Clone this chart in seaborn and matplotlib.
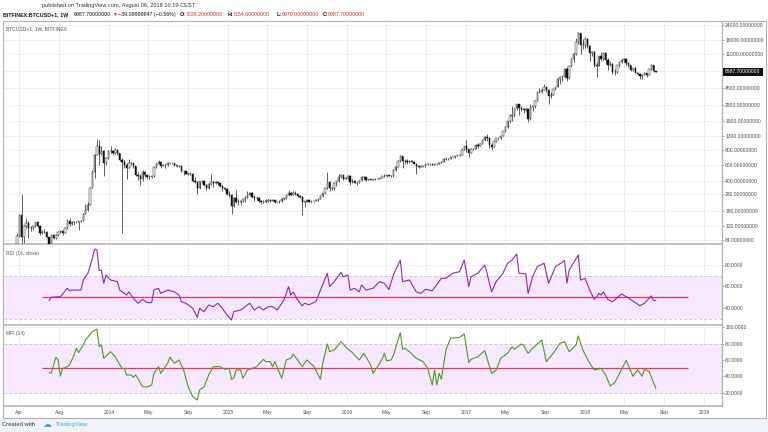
import numpy as np
import pandas as pd
import matplotlib
matplotlib.use("Agg")
import matplotlib.pyplot as plt
import matplotlib.dates as mdates
from matplotlib.patches import Rectangle
import seaborn as sns

sns.set_theme(style="white")
plt.rcParams["font.family"] = ["Liberation Sans", "DejaVu Sans"]

# ---------------- data (weekly bars, BITFINEX BTCUSD) ----------------
START = "2013-03-25"
OPENS = [75, 93, 160, 90, 120, 130, 115, 115, 122, 133, 122, 100, 103, 104, 91, 76, 97, 89, 96, 104,
         106, 101, 114, 140, 128, 135, 134, 135, 137, 140, 166, 185, 212, 330, 500, 790, 1000, 800, 870, 640,
         720, 860, 860, 830, 900, 815, 680, 650, 600, 560, 630, 630, 580, 460, 450, 420, 500, 460, 440, 440,
         445, 575, 625, 655, 590, 595, 595, 635, 630, 627, 595, 590, 590, 520, 510, 480, 480, 480, 400, 380,
         330, 390, 390, 355, 325, 365, 385, 375, 380, 375, 350, 330, 320, 280, 270, 205, 250, 230, 225, 235,
         245, 260, 275, 285, 260, 250, 255, 235, 225, 225, 235, 240, 235, 240, 225, 225, 233, 245, 250, 270,
         292, 275, 290, 280, 265, 260, 230, 230, 240, 230, 231, 233, 240, 245, 265, 285, 325, 380, 330, 325,
         375, 390, 440, 460, 420, 430, 450, 380, 400, 375, 375, 405, 440, 435, 410, 415, 410, 415, 420, 420,
         430, 450, 450, 460, 455, 445, 530, 575, 670, 760, 660, 670, 650, 660, 655, 620, 590, 570, 580, 580,
         610, 610, 610, 605, 615, 620, 640, 655, 700, 705, 705, 740, 735, 765, 775, 790, 900, 1000, 910, 820,
         920, 920, 1020, 1000, 1050, 1170, 1250, 1220, 1010, 975, 1130, 1210, 1210, 1290, 1450, 1650, 1890, 2200, 2250, 2650,
         2950, 2650, 2600, 2550, 2600, 2000, 2750, 2800, 3250, 4100, 4100, 4350, 4600, 4300, 3700, 3800, 4400, 4600, 5700, 6000,
         6100, 7400, 5900, 8000, 9800, 11000, 15000, 19000, 14000, 14000, 16500, 13800, 11500, 11800, 8200, 8100, 10400, 9600, 11500, 9500,
         8200, 8500, 6900, 6900, 8300, 8900, 9400, 9650, 8700, 8200, 7350, 7700, 6800, 6500, 6150, 6400, 6750, 6350, 7400, 8200,
         7026.2]
HIGHS = [100, 165, 280, 125, 150, 140, 120, 124, 135, 137, 124, 110, 111, 106, 92, 99, 99, 98, 106, 108,
         110, 118, 145, 150, 140, 138, 140, 140, 142, 170, 215, 225, 340, 530, 800, 1180, 1160, 1000, 880, 750,
         880, 1000, 880, 950, 920, 830, 720, 680, 640, 700, 650, 640, 590, 500, 480, 530, 510, 460, 460, 450,
         590, 630, 680, 660, 620, 610, 650, 640, 635, 630, 600, 600, 595, 530, 520, 490, 490, 485, 440, 390,
         400, 400, 395, 365, 370, 470, 390, 390, 385, 375, 355, 335, 330, 300, 280, 260, 310, 245, 240, 250,
         265, 300, 296, 295, 270, 265, 260, 240, 240, 245, 245, 245, 245, 242, 230, 236, 250, 252, 275, 310,
         295, 300, 300, 285, 270, 265, 235, 245, 246, 235, 236, 248, 250, 270, 290, 330, 500, 390, 340, 380,
         400, 470, 470, 465, 440, 460, 460, 420, 405, 390, 410, 445, 445, 440, 420, 420, 420, 425, 425, 432,
         455, 470, 465, 462, 458, 535, 590, 690, 780, 770, 705, 700, 680, 680, 660, 625, 600, 590, 585, 615,
         630, 612, 612, 620, 625, 645, 660, 720, 745, 720, 750, 750, 770, 775, 795, 935, 1000, 1150, 920, 935,
         930, 1040, 1080, 1060, 1200, 1290, 1350, 1260, 1070, 1140, 1220, 1230, 1290, 1460, 1660, 1900, 2300, 2850, 2700, 3000,
         3000, 2800, 2650, 2700, 2620, 2950, 2850, 3300, 4200, 4500, 4400, 4980, 4700, 4400, 4100, 4450, 4650, 5850, 6200, 6300,
         7600, 7900, 8100, 9900, 11400, 17000, 19900, 19200, 16500, 17200, 16800, 14000, 12000, 12000, 8900, 10500, 11800, 11700, 11700, 9900,
         9200, 8700, 7500, 8400, 9000, 9750, 9950, 9700, 8900, 8400, 7750, 7800, 6900, 6800, 6500, 6850, 6800, 7600, 8500, 8250,
         7154.6]
LOWS = [72, 92, 70, 68, 115, 88, 105, 110, 119, 118, 95, 98, 100, 88, 68, 74, 86, 86, 94, 100,
        97, 100, 113, 120, 125, 126, 130, 110, 134, 139, 165, 180, 210, 330, 430, 780, 600, 790, 450, 600,
        700, 820, 790, 800, 780, 660, 100, 560, 420, 550, 600, 560, 450, 410, 360, 390, 440, 420, 420, 430,
        440, 560, 620, 560, 580, 560, 590, 610, 610, 590, 570, 575, 500, 460, 470, 465, 465, 380, 370, 280,
        320, 370, 345, 315, 320, 360, 340, 365, 360, 340, 300, 310, 270, 260, 165, 200, 220, 210, 210, 230,
        230, 255, 270, 255, 235, 240, 230, 215, 220, 220, 230, 230, 233, 222, 220, 223, 230, 240, 248, 265,
        270, 270, 275, 260, 255, 162, 198, 225, 228, 225, 225, 232, 235, 245, 262, 280, 320, 300, 310, 315,
        350, 385, 430, 410, 415, 420, 360, 370, 370, 360, 370, 400, 405, 400, 405, 405, 405, 410, 415, 418,
        428, 440, 440, 445, 435, 440, 520, 570, 650, 550, 620, 620, 640, 650, 615, 480, 560, 565, 565, 570,
        600, 600, 595, 600, 608, 615, 630, 650, 680, 690, 700, 720, 730, 755, 765, 785, 890, 850, 750, 820,
        880, 915, 940, 985, 1040, 1140, 1120, 950, 900, 960, 1100, 1170, 1190, 1280, 1430, 1600, 1800, 1900, 2100, 2550,
        2250, 2500, 2350, 2450, 1850, 1950, 2450, 2650, 3200, 3950, 3950, 4300, 4100, 3000, 3500, 3750, 4300, 4600, 5100, 5400,
        6100, 5500, 5800, 7900, 9000, 10800, 14500, 11000, 12500, 13000, 12800, 9100, 10500, 7800, 6000, 8000, 9300, 9400, 8500, 7300,
        8000, 6600, 6450, 6650, 7850, 8700, 9050, 8300, 7950, 7100, 7100, 6700, 6300, 5750, 5800, 6300, 6100, 6300, 7350, 6900,
        6979.0]
CLOSES = [93, 160, 90, 120, 130, 115, 115, 122, 133, 122, 100, 103, 104, 91, 76, 97, 89, 96, 104, 106,
          101, 114, 140, 128, 135, 134, 135, 137, 140, 166, 185, 212, 330, 500, 790, 1000, 800, 870, 640, 720,
          860, 860, 830, 900, 815, 680, 650, 600, 560, 630, 630, 580, 460, 450, 420, 500, 460, 440, 440, 445,
          575, 625, 655, 590, 595, 595, 635, 630, 627, 595, 590, 590, 520, 510, 480, 480, 480, 400, 380, 330,
          390, 390, 355, 325, 365, 385, 375, 380, 375, 350, 330, 320, 280, 270, 205, 250, 230, 225, 235, 245,
          260, 275, 285, 260, 250, 255, 235, 225, 225, 235, 240, 235, 240, 225, 225, 233, 245, 250, 270, 292,
          275, 290, 280, 265, 260, 230, 230, 240, 230, 231, 233, 240, 245, 265, 285, 325, 380, 330, 325, 375,
          390, 440, 460, 420, 430, 450, 380, 400, 375, 375, 405, 440, 435, 410, 415, 410, 415, 420, 420, 430,
          450, 450, 460, 455, 445, 530, 575, 670, 760, 660, 670, 650, 660, 655, 620, 590, 570, 580, 580, 610,
          610, 610, 605, 615, 620, 640, 655, 700, 705, 705, 740, 735, 765, 775, 790, 900, 1000, 910, 820, 920,
          920, 1020, 1000, 1050, 1170, 1250, 1220, 1010, 975, 1130, 1210, 1210, 1290, 1450, 1650, 1890, 2200, 2250, 2650, 2950,
          2650, 2600, 2550, 2600, 2000, 2750, 2800, 3250, 4100, 4100, 4350, 4600, 4300, 3700, 3800, 4400, 4600, 5700, 6000, 6100,
          7400, 5900, 8000, 9800, 11000, 15000, 19000, 14000, 14000, 16500, 13800, 11500, 11800, 8200, 8100, 10400, 9600, 11500, 9500, 8200,
          8500, 6900, 6900, 8300, 8900, 9400, 9650, 8700, 8200, 7350, 7700, 6800, 6500, 6150, 6400, 6750, 6350, 7400, 8200, 7026.2,
          6987.7]

RSI_WEEK = [14, 15, 19, 22, 23, 24, 28, 29, 31, 33, 34, 35, 36, 37, 38, 39, 41, 44, 45, 48,
            49, 51, 53, 55, 57, 59, 60, 62, 63, 66, 69, 71, 72, 74, 77, 79, 80, 82, 84, 86,
            88, 90, 92, 94, 95, 98, 102, 104, 106, 108, 110, 112, 114, 117, 119, 120, 121, 123, 125, 126,
            128, 131, 133, 136, 137, 139, 142, 143, 145, 146, 148, 150, 151, 153, 156, 159, 161, 163, 165, 168,
            169, 172, 175, 177, 179, 182, 186, 188, 191, 194, 196, 198, 199, 202, 205, 206, 208, 210, 213, 215,
            217, 219, 220, 223, 224, 226, 228, 231, 233, 236, 240, 241, 242, 246, 247, 249, 251, 253, 254, 255,
            256, 257, 259, 261, 265, 268, 273, 275, 278, 279, 280]
RSI_VALUE = [46.8, 50, 50.5, 58.3, 56, 56.7, 56.7, 66, 72, 86, 94.9, 94, 75, 75, 63, 70.7, 66, 64.5, 56.7, 52,
             55, 49, 44.4, 48, 45, 45, 56.7, 58.3, 53.6, 56.7, 55, 52, 45.9, 44.4, 39.7, 31.3, 39.7, 36.6, 42.8, 41.2,
             44.4, 39.7, 33.5, 28.8, 36.6, 38.1, 44.4, 38.1, 41.2, 38.1, 41.2, 41.2, 38.1, 47.4, 59.8, 52, 55, 47.4, 41.9, 44.4,
             43, 46, 56.7, 72.3, 59.8, 64.5, 73.2, 69, 70.7, 56.7, 58.3, 55, 61.4, 56.7, 58.3, 64.5, 63, 57, 71, 84.5,
             64.5, 66, 55, 53.6, 57.4, 56, 67.6, 67.6, 72.3, 73.8, 84.7, 59.8, 69, 72.3, 80, 72.3, 55, 64.5, 72.3, 81.6,
             84.7, 90.2, 72.3, 71.8, 53.6, 69, 78.4, 81.6, 63, 78.4, 84, 63, 75.3, 89.3, 66, 67.5, 56.7, 48, 50, 53.6,
             52, 55, 48, 45.9, 53, 49.2, 42.1, 44.4, 51.2, 47, 47]

MFI_WEEK = [14, 15, 17, 18, 19, 20, 22, 23, 25, 26, 27, 29, 30, 33, 35, 36, 37, 38, 41, 43,
            46, 47, 48, 50, 51, 52, 55, 57, 59, 60, 62, 63, 66, 67, 69, 71, 73, 75, 77, 79,
            80, 82, 84, 86, 89, 91, 93, 94, 95, 96, 98, 99, 101, 103, 105, 108, 109, 111, 112, 113,
            116, 118, 120, 121, 123, 125, 127, 130, 133, 134, 136, 137, 139, 142, 144, 145, 147, 150, 152, 155,
            156, 158, 160, 161, 162, 164, 165, 168, 169, 170, 172, 175, 178, 180, 182, 183, 184, 185, 186, 188,
            190, 194, 196, 198, 199, 202, 205, 208, 210, 212, 215, 217, 218, 221, 222, 224, 226, 230, 232, 235,
            238, 240, 242, 245, 246, 248, 251, 253, 256, 258, 260, 262, 263, 267, 270, 272, 274, 275, 277, 280]
MFI_VALUE = [44.4, 44, 63.3, 60, 40.4, 49.7, 51.8, 53.9, 66.1, 74.3, 69, 78.3, 84.5, 94.6, 97.9, 76.3, 78.3, 62, 70.2, 64,
             49.7, 49.7, 41.7, 41.7, 38.8, 41.7, 27.3, 27, 29.4, 43.7, 51.8, 43.7, 56, 63.3, 56, 60, 47.8, 27.3, 15.1, 11.1,
             23.3, 27.3, 41.7, 51.8, 51.8, 48.5, 49.7, 36.4, 37.6, 47.8, 47.8, 37.6, 47.8, 49.7, 51.8, 60.8, 58, 58, 51.8, 58,
             37.6, 60, 62, 67.3, 60, 51.8, 60, 52.6, 36.4, 56, 79.6, 70.2, 72.2, 82.4, 76.3, 73.4, 69, 60, 68.2, 54,
             43.7, 51.8, 60.8, 68.2, 59, 60, 66, 93.4, 73.1, 74.3, 70.2, 62, 58, 49.7, 29.4, 47.8, 29.4, 43.7, 36.4, 72.2,
             86.5, 87.7, 91.8, 56.8, 60.8, 64, 71.4, 43.7, 47.8, 62, 68.2, 76.3, 73.1, 79.6, 78.3, 68.2, 74.3, 84.5, 58, 68.2,
             80.4, 82.4, 70.2, 78.3, 89.4, 72.2, 56, 47.8, 49.7, 41.7, 28.2, 32.2, 37.6, 59.6, 40, 47.8, 40, 48.5, 46, 25.4]

PRICE_TICKS = [84, 120, 180, 280, 400, 600, 900, 1300, 1900, 2900, 4500, 7000, 11000, 16000, 24000]
RSI_TICKS = [40, 60, 80]
MFI_TICKS = [20, 40, 60, 80, 100]
DATE_TICKS = ["2013-04-01", "2013-08-01", "2014-01-01", "2014-05-01", "2014-09-01", "2015-01-01",
              "2015-05-01", "2015-09-01", "2016-01-01", "2016-05-01", "2016-09-01", "2017-01-01",
              "2017-05-01", "2017-09-01", "2018-01-01", "2018-05-01", "2018-09-01", "2019-01-01"]
DATE_LABELS = ["Apr", "Aug", "2014", "May", "Sep", "2015", "May", "Sep", "2016", "May", "Sep", "2017",
               "May", "Sep", "2018", "May", "Sep", "2019"]

# ---------------- layout helpers ----------------
W, H = 768, 432
def rect(x0, y0, x1, y1):
    return [x0 / W, 1 - y1 / H, (x1 - x0) / W, (y1 - y0) / H]
def fx(x):
    return x / W
def fy(y):
    return 1 - y / H

TXT = "#4a4a4a"
GRID = "#ececec"
SEP = "#b0b0b0"
FS = 3.65

fig = plt.figure(figsize=(7.68, 4.32), dpi=100, facecolor="#ffffff")
# footer band
fig.patches.append(Rectangle((0, 0), 1, fy(417.5), transform=fig.transFigure,
                             facecolor="#f0f3f7", edgecolor="none", zorder=-3))
# chart frame
fig.patches.append(Rectangle((fx(3), fy(417.5)), fx(766) - fx(3), fy(20.5) - fy(417.5),
                             transform=fig.transFigure, facecolor="white",
                             edgecolor=SEP, linewidth=0.8, zorder=-2))

d0 = pd.Timestamp(START)
dates = pd.date_range(START, periods=len(CLOSES), freq="7D")
xmin = mdates.date2num(d0 - pd.Timedelta(days=41.6))
xmax = mdates.date2num(d0 + pd.Timedelta(days=2163))
tick_pos = mdates.date2num(pd.to_datetime(DATE_TICKS))

ax = fig.add_axes(rect(3.5, 20.5, 722, 244))
ax_r = fig.add_axes(rect(3.5, 244, 722, 324.5))
ax_m = fig.add_axes(rect(3.5, 324.5, 722, 405.5))

for a in (ax, ax_r, ax_m):
    a.set_facecolor("none")
    a.set_xlim(xmin, xmax)
    for s in a.spines.values():
        s.set_visible(False)
    a.spines["bottom"].set_visible(True)
    a.spines["bottom"].set_color(SEP)
    a.spines["bottom"].set_linewidth(1.1)
    a.spines["right"].set_visible(True)
    a.spines["right"].set_color(SEP)
    a.spines["right"].set_linewidth(0.9)
    a.set_xticks(tick_pos)
    for t in tick_pos:
        a.axvline(t, color=GRID, lw=0.6, zorder=0)
    a.yaxis.tick_right()
    a.tick_params(axis="y", which="both", length=1.5, width=0.5, color="#888888",
                  labelsize=FS, labelcolor=TXT, pad=0.8, direction="out")
    a.tick_params(axis="x", length=0, labelbottom=False)
    a.grid(False)

# ---------------- main price pane ----------------
ax.set_yscale("log")
ax.set_ylim(75.6, 26660)
ax.yaxis.set_minor_locator(matplotlib.ticker.NullLocator())
ax.set_yticks(PRICE_TICKS)
ax.set_yticklabels([("%.8f" % v) if v != 7000 else "" for v in PRICE_TICKS])
for v in PRICE_TICKS:
    ax.axhline(v, color=GRID, lw=0.6, zorder=0)

O = np.array(OPENS, dtype=float)
Hh = np.array(HIGHS, dtype=float)
L = np.array(LOWS, dtype=float)
C = np.array(CLOSES, dtype=float)
up = C >= O
bot = np.minimum(O, C)
hgt = np.maximum(np.abs(C - O), bot * 0.004)
ax.vlines(dates, L, Hh, color="#333333", lw=0.55, zorder=2)
ax.bar(dates[up], hgt[up], bottom=bot[up], width=4.2, color="white",
       edgecolor="#222222", linewidth=0.35, zorder=3)
ax.bar(dates[~up], hgt[~up], bottom=bot[~up], width=4.2, color="#111111",
       edgecolor="#111111", linewidth=0.35, zorder=3)

# ---------------- RSI pane ----------------
x_line0 = mdates.date2num(d0 + pd.Timedelta(days=76.7))
x_line1 = mdates.date2num(d0 + pd.Timedelta(days=2058.6))

ax_r.set_ylim(24.65, 99.5)
ax_r.set_yticks(RSI_TICKS)
ax_r.set_yticklabels(["%.4f" % v for v in RSI_TICKS])
for v in RSI_TICKS:
    ax_r.axhline(v, color=GRID, lw=0.6, zorder=0)
ax_r.axhspan(30, 70, color="#f5e8ff", zorder=0.5, lw=0)
for v in (30, 70):
    ax_r.axhline(v, color="#c4c4c4", lw=0.6, ls=(0, (3, 3)), zorder=1)
rsi_df = pd.DataFrame({"date": dates[RSI_WEEK], "rsi": RSI_VALUE})
sns.lineplot(data=rsi_df, x="date", y="rsi", ax=ax_r, color="#9128b0", lw=0.8, zorder=4)
ax_r.hlines(50, x_line0, x_line1, color="#f0364f", lw=0.9, zorder=3)
ax_r.set_xlabel("")
ax_r.set_ylabel("")
ax_r.set_xlim(xmin, xmax)

# ---------------- MFI pane ----------------
ax_m.set_ylim(4.34, 103.4)
ax_m.set_yticks(MFI_TICKS)
ax_m.set_yticklabels(["%.4f" % v for v in MFI_TICKS])
for v in MFI_TICKS:
    ax_m.axhline(v, color=GRID, lw=0.6, zorder=0)
ax_m.axhspan(20, 80, color="#f5e8ff", zorder=0.5, lw=0)
for v in (20, 80):
    ax_m.axhline(v, color="#c4c4c4", lw=0.6, ls=(0, (3, 3)), zorder=1)
mfi_df = pd.DataFrame({"date": dates[MFI_WEEK], "mfi": MFI_VALUE})
sns.lineplot(data=mfi_df, x="date", y="mfi", ax=ax_m, color="#4f9a1e", lw=0.8, zorder=4)
ax_m.hlines(50, x_line0, x_line1, color="#f0364f", lw=0.9, zorder=3)
ax_m.set_xlabel("")
ax_m.set_ylabel("")
ax_m.set_xlim(xmin, xmax)
ax_m.tick_params(axis="x", length=2, width=0.5, color="#888888", labelbottom=True,
                 labelsize=FS, labelcolor=TXT, pad=1.5)
ax_m.set_xticklabels(DATE_LABELS)

# ---------------- texts ----------------
fig.text(fx(6.5), fy(29), "BTCUSD+1, 1W, BITFINEX", fontsize=FS, color="#555555", va="center")
fig.text(fx(6.5), fy(253), "RSI (14, close)", fontsize=FS, color="#555555", va="center")
fig.text(fx(6.5), fy(333), "MFI (14)", fontsize=FS, color="#555555", va="center")

# current price marker on axis
fig.patches.append(Rectangle((fx(723), fy(75.5)), fx(763) - fx(723), fy(67.5) - fy(75.5),
                             transform=fig.transFigure, facecolor="#111111", edgecolor="none", zorder=5))
fig.text(fx(724.5), fy(71.5), "6987.70000000", fontsize=FS, color="white", va="center", zorder=6)

# header
fig.text(fx(41.7), fy(5.7), "published on TradingView.com, August 06, 2018 10:19 CEST",
         fontsize=4.1, color="#333333", va="center")
RED = "#d32f2f"
hdr = [(2.7, "BITFINEX:BTCUSD+1, 1W", "#111111", "bold"),
       (74, "6987.70000000", "#111111", "normal"),
       (112.5, "\u25BC", RED, "normal"),
       (118, "\u221239.09999847 (\u22120.56%)", "#111111", "normal"),
       (180, "O:", "#111111", "bold"),
       (185.7, "7026.20000000", RED, "normal"),
       (227.5, "H:", "#111111", "bold"),
       (233, "7154.60000000", RED, "normal"),
       (276.5, "L:", "#111111", "bold"),
       (281.7, "6979.00000000", RED, "normal"),
       (322.5, "C:", "#111111", "bold"),
       (328, "6987.70000000", RED, "normal")]
for x, s, c, w in hdr:
    fig.text(fx(x), fy(14.5), s, fontsize=3.8, color=c, fontweight=w, va="center",
             family=["Liberation Sans", "DejaVu Sans"])

# footer
fig.text(fx(2.5), fy(424.5), "Created with", fontsize=4.2, color="#333333", va="center")
fig.text(fx(43), fy(424.5), "\u2601", fontsize=6.5, color="#3ca5e6", va="center",
         family=["DejaVu Sans"])
fig.text(fx(56), fy(424.5), "TradingView", fontsize=4.2, color="#3ca5e6", va="center")

fig.savefig("out.png", dpi=100, facecolor=fig.get_facecolor())
